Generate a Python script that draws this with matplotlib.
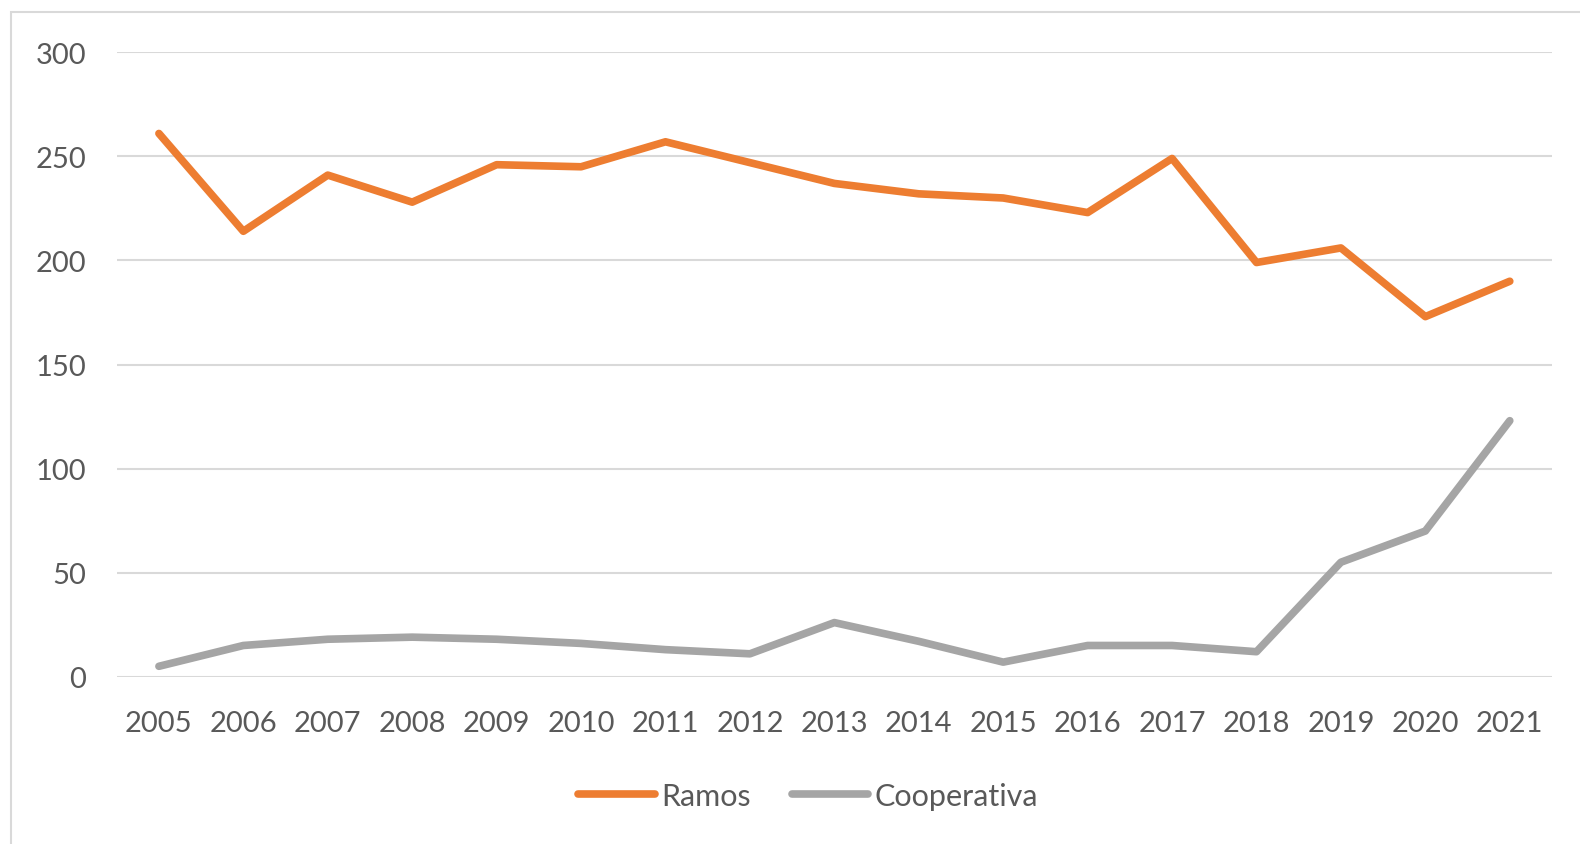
import matplotlib.pyplot as plt
from matplotlib.patches import Rectangle

years = ["2005", "2006", "2007", "2008", "2009", "2010", "2011", "2012", "2013",
         "2014", "2015", "2016", "2017", "2018", "2019", "2020", "2021"]
ramos = [261, 214, 241, 228, 246, 245, 257, 247, 237, 232, 230, 223, 249, 199, 206, 173, 190]
cooperativa = [5, 15, 18, 19, 18, 16, 13, 11, 26, 17, 7, 15, 15, 12, 55, 70, 123]

plt.rcParams['font.family'] = ['Lato', 'DejaVu Sans']
text_color = "#595959"
grid_color = "#d9d9d9"

fig = plt.figure(figsize=(15.8, 8.45), dpi=100)
ax = fig.add_axes([116.7 / 1580, 1 - 677.7 / 845, (1552 - 116.7) / 1580, (677.7 - 53.3) / 845])

x = list(range(len(years)))
ax.plot(x, ramos, color="#ED7D31", lw=5.5, solid_capstyle="round", label="Ramos")
ax.plot(x, cooperativa, color="#A5A5A5", lw=5.5, solid_capstyle="round", label="Cooperativa")

ax.set_xlim(-0.5, len(years) - 0.5)
ax.set_ylim(0, 300)
ax.set_yticks(range(0, 301, 50))
ax.set_xticks(x)
ax.set_xticklabels(years)
ax.yaxis.grid(True, color=grid_color, lw=1.5)
ax.set_axisbelow(True)
for s in ax.spines.values():
    s.set_visible(False)
ax.tick_params(axis="both", length=0, labelsize=21, labelcolor=text_color)
ax.tick_params(axis="y", pad=22)
ax.tick_params(axis="x", pad=24)

# outer chart border (clipped at right and bottom)
fig.patches.append(Rectangle((11 / 1580, -0.1), 1.2, 1 - 12.7 / 845 + 0.1,
                             transform=fig.transFigure, fill=False,
                             edgecolor=grid_color, lw=1.5))

leg = fig.legend(loc="center", bbox_to_anchor=(808 / 1580, 1 - 797 / 845), ncol=2,
                 frameon=False, fontsize=22, handlelength=2.5, handletextpad=0.2,
                 columnspacing=1.35)
for t in leg.get_texts():
    t.set_color(text_color)

fig.savefig("out.png", dpi=100)
